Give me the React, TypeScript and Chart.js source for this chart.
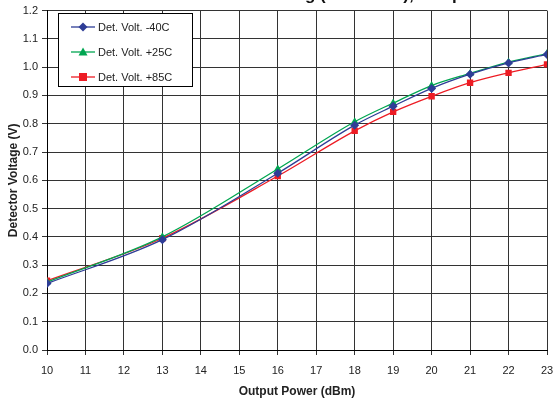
import React, { useEffect, useRef } from 'react';
import { Chart, registerables } from 'chart.js';
Chart.register(...registerables);

const powerDbm = [10, 13, 16, 18, 19, 20, 21, 22, 23];
const voltMinus40 = [0.235, 0.39, 0.625, 0.795, 0.862, 0.925, 0.975, 1.015, 1.045];
const voltPlus25 = [0.24, 0.4, 0.64, 0.807, 0.873, 0.935, 0.978, 1.018, 1.048];
const voltPlus85 = [0.245, 0.395, 0.615, 0.775, 0.842, 0.897, 0.945, 0.98, 1.01];
const seriesLabels = ['Det. Volt. -40C', 'Det. Volt. +25C', 'Det. Volt. +85C'];
const seriesColors = ['#2e3d96', '#00a651', '#ed1c24'];
const seriesMarkers = ['rectRot', 'triangle', 'rect'];
const titleText = 'Det. Volt. vs. Power Setting (1960 MHz), Temp';
const xTitle = 'Output Power (dBm)';
const yTitle = 'Detector Voltage (V)';

const FONT = "Arial, 'Liberation Sans', Helvetica, sans-serif";

function drawMarker(ctx: CanvasRenderingContext2D, style: string, x: number, y: number, color: string) {
  ctx.save();
  ctx.fillStyle = color;
  ctx.beginPath();
  if (style === 'rectRot') {
    const r = 4.5;
    ctx.moveTo(x, y - r);
    ctx.lineTo(x + r, y);
    ctx.lineTo(x, y + r);
    ctx.lineTo(x - r, y);
    ctx.closePath();
  } else if (style === 'triangle') {
    const r = 4.5;
    ctx.moveTo(x, y - r);
    ctx.lineTo(x + r, y + r * 0.8);
    ctx.lineTo(x - r, y + r * 0.8);
    ctx.closePath();
  } else {
    const r = 4;
    ctx.rect(x - r, y - r, 2 * r, 2 * r);
  }
  ctx.fill();
  ctx.restore();
}

const overlayPlugin = {
  id: 'overlay',
  afterDraw(chart: any) {
    const ctx: CanvasRenderingContext2D = chart.ctx;
    // clipped title at very top
    ctx.save();
    ctx.font = `bold 17px ${FONT}`;
    ctx.fillStyle = '#111';
    ctx.textBaseline = 'alphabetic';
    ctx.textAlign = 'left';
    const gIdx = titleText.indexOf('g (');
    const prefixW = ctx.measureText(titleText.slice(0, gIdx)).width;
    ctx.fillText(titleText, 305 - prefixW, 0);
    ctx.restore();

    // legend box
    const bx = 58.5, by = 13.5, bw = 134, bh = 73;
    ctx.save();
    ctx.fillStyle = '#fff';
    ctx.fillRect(bx, by, bw, bh);
    ctx.strokeStyle = '#000';
    ctx.lineWidth = 1;
    ctx.strokeRect(bx, by, bw, bh);
    chart.data.datasets.forEach((ds: any, i: number) => {
      const y = 27 + i * 25;
      ctx.strokeStyle = ds.borderColor;
      ctx.lineWidth = 1.3;
      ctx.beginPath();
      ctx.moveTo(71, y);
      ctx.lineTo(95, y);
      ctx.stroke();
      drawMarker(ctx, ds.pointStyle, 83, y, ds.borderColor);
      ctx.fillStyle = '#222';
      ctx.font = `11px ${FONT}`;
      ctx.textBaseline = 'middle';
      ctx.textAlign = 'left';
      ctx.fillText(ds.label, 98, y + 0.5);
    });
    ctx.restore();
  },
};

export default function App() {
  const ref = useRef<HTMLCanvasElement>(null);
  useEffect(() => {
    if (!ref.current) return;
    const seriesValues = [voltMinus40, voltPlus25, voltPlus85];
    const chart = new Chart(ref.current, {
      type: 'line',
      data: {
        datasets: seriesValues.map((vals, i) => ({
          label: seriesLabels[i],
          data: powerDbm.map((x, j) => ({ x, y: vals[j] })),
          borderColor: seriesColors[i],
          backgroundColor: seriesColors[i],
          borderWidth: 1.3,
          pointStyle: seriesMarkers[i] as any,
          pointRadius: 4.5,
          pointBorderWidth: 0,
          cubicInterpolationMode: 'monotone' as const,
          fill: false,
        })),
      },
      options: {
        animation: false,
        responsive: false,
        devicePixelRatio: 1,
        layout: { padding: { top: 10, right: 8, left: 0, bottom: 0 } },
        plugins: {
          legend: { display: false },
          title: { display: false },
          tooltip: { enabled: false },
        },
        scales: {
          x: {
            type: 'linear',
            min: 10,
            max: 23,
            afterFit: (s: any) => { s.height = 50; s.paddingRight = 0; s.paddingLeft = 0; },
            ticks: { stepSize: 1, color: '#222', font: { family: FONT, size: 11 }, padding: 9, maxRotation: 0 },
            grid: { color: '#333', lineWidth: 1, tickLength: 5, tickColor: '#333' },
            border: { color: '#000', width: 1 },
            title: { display: true, text: xTitle, color: '#222', font: { family: FONT, size: 12, weight: 'bold' }, padding: { top: 0, bottom: 1 } },
          },
          y: {
            min: 0,
            max: 1.2,
            afterFit: (s: any) => { s.width = 47; },
            ticks: { stepSize: 0.1, color: '#222', font: { family: FONT, size: 11 }, padding: 4, callback: (v: any) => Number(v).toFixed(1) },
            grid: { color: '#333', lineWidth: 1, tickLength: 5, tickColor: '#333' },
            border: { color: '#000', width: 1 },
            title: { display: true, text: yTitle, color: '#222', font: { family: FONT, size: 12, weight: 'bold' }, padding: { top: 6, bottom: 4 } },
          },
        },
      },
      plugins: [overlayPlugin],
    });
    return () => chart.destroy();
  }, []);
  return (
    <div style={{ position: 'absolute', left: 0, top: 0, width: 555, height: 400, background: '#fff', overflow: 'hidden' }}>
      <canvas ref={ref} width={555} height={400} style={{ display: 'block' }} />
    </div>
  );
}
